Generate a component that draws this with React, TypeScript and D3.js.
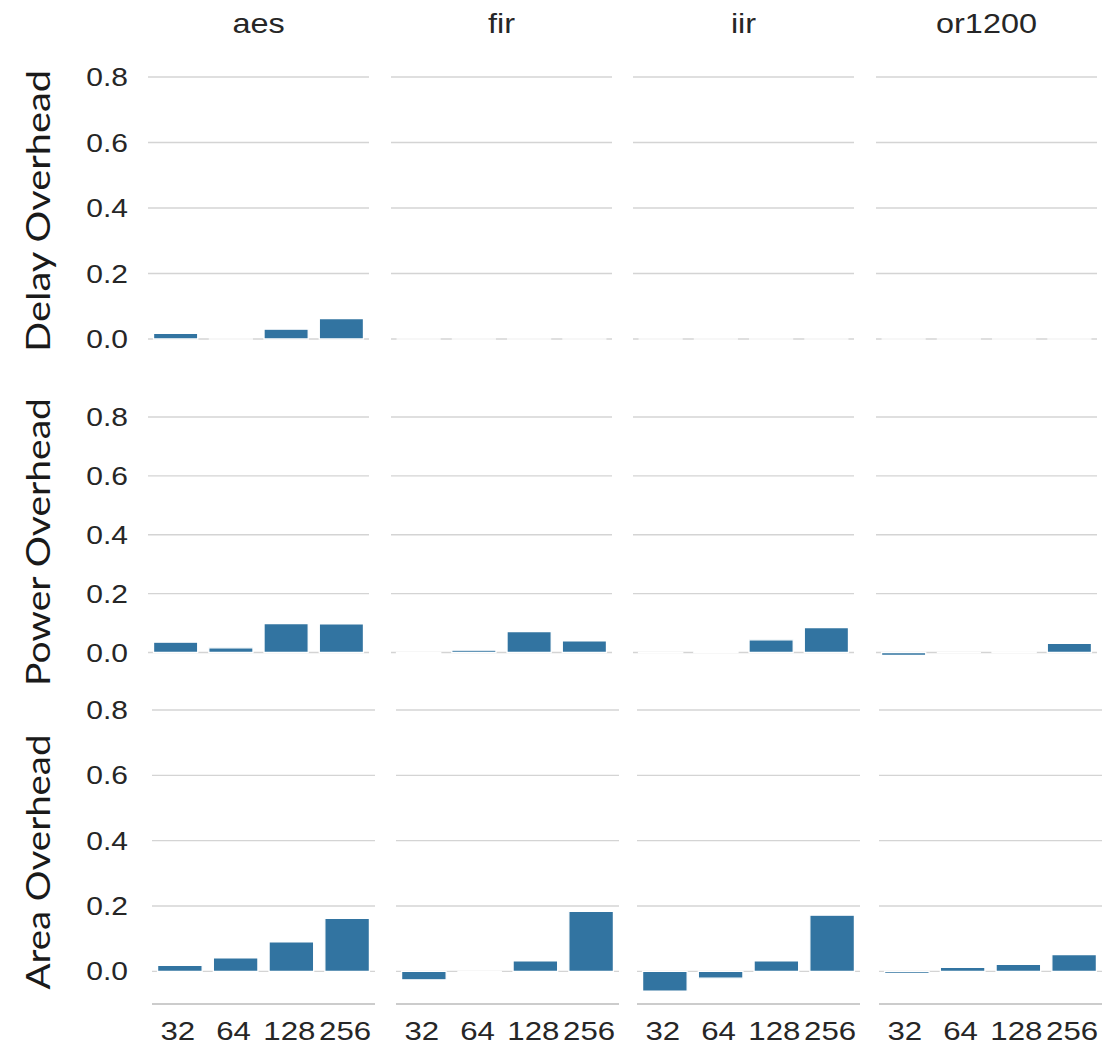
import React, { useRef, useEffect } from 'react';
import * as d3 from 'd3';

const designs = ['aes', 'fir', 'iir', 'or1200'];
const sizes = ['32', '64', '128', '256'];
const metrics = ['Delay Overhead', 'Power Overhead', 'Area Overhead'];
const yTicks = [0, 0.2, 0.4, 0.6, 0.8];

// values per design, in the order of sizes
const delayValues = [
  [0.017, 0.0, 0.03, 0.062],
  [0.0, 0.0, 0.0, 0.0],
  [0.0, 0.0, 0.0, 0.0],
  [0.0, 0.0, 0.0, 0.0],
];
const powerValues = [
  [0.035, 0.016, 0.098, 0.097],
  [-0.005, 0.008, 0.071, 0.04],
  [-0.001, 0.004, 0.043, 0.085],
  [-0.01, 0.0, 0.002, 0.031],
];
const areaValues = [
  [0.018, 0.041, 0.09, 0.162],
  [-0.026, 0.0, 0.032, 0.184],
  [-0.061, -0.021, 0.032, 0.172],
  [-0.006, 0.012, 0.021, 0.051],
];

const W = 1112;
const H = 1049;
const barColor = '#3274a1';
const gridColor = '#d4d4d4';
const textColor = '#262626';
const tickFont = '"Liberation Sans", Arial, sans-serif';
const stretch = 1.2;

const App: React.FC = () => {
  const svgRef = useRef<SVGSVGElement>(null);

  useEffect(() => {
    if (!svgRef.current) return;
    const svg = d3.select(svgRef.current);
    svg.selectAll('*').remove();

    const rows = [
      { values: delayValues, y: d3.scaleLinear().domain([0, 0.8]).range([339, 77]), xs: [148, 391, 633, 876], w: 221, spine: false, mid: 211, len: 282 },
      { values: powerValues, y: d3.scaleLinear().domain([0, 0.8]).range([652.5, 417]), xs: [148, 391, 633, 876], w: 221, spine: false, mid: 542, len: 288 },
      { values: areaValues, y: d3.scaleLinear().domain([-0.1, 0.8]).range([1004, 710]), xs: [152, 396, 637, 879], w: 223, spine: true, mid: 862, len: 255 },
    ];

    const label = (x: number, y: number, txt: string, size: number, anchor: string) =>
      svg.append('text')
        .attr('transform', `translate(${x},${y}) scale(${stretch},1)`)
        .attr('text-anchor', anchor)
        .style('font-family', tickFont)
        .style('font-size', `${size}px`)
        .style('fill', textColor)
        .text(txt);

    // column titles
    designs.forEach((d, i) => {
      label(rows[0].xs[i] + rows[0].w / 2, 33, d, 27, 'middle');
    });

    rows.forEach((row, r) => {
      const y = row.y;

      // y tick labels, left column only
      yTicks.forEach(t => {
        label(128, y(t) + 9, d3.format('.1f')(t), 25, 'end');
      });

      // metric title
      svg.append('text')
        .attr('transform', `translate(50,${row.mid}) rotate(-90)`)
        .attr('text-anchor', 'middle')
        .attr('textLength', row.len)
        .attr('lengthAdjust', 'spacingAndGlyphs')
        .style('font-family', 'Lato, "Open Sans", sans-serif')
        .style('font-size', '32px')
        .style('fill', '#1a1a1a')
        .text(metrics[r]);

      row.xs.forEach((x0, c) => {
        const x = d3.scaleBand<string>()
          .domain(sizes)
          .range([x0, x0 + row.w])
          .paddingInner(0.2)
          .paddingOuter(0.1);

        const g = svg.append('g');

        g.selectAll('.grid')
          .data(yTicks)
          .enter()
          .append('line')
          .attr('x1', x0)
          .attr('x2', x0 + row.w)
          .attr('y1', d => y(d))
          .attr('y2', d => y(d))
          .attr('stroke', gridColor)
          .attr('stroke-width', 1.3);

        if (row.spine) {
          g.append('line')
            .attr('x1', x0)
            .attr('x2', x0 + row.w)
            .attr('y1', y(-0.1))
            .attr('y2', y(-0.1))
            .attr('stroke', '#cccccc')
            .attr('stroke-width', 2);
        }

        const vals = row.values[c];
        g.selectAll('.bar')
          .data(sizes)
          .enter()
          .append('path')
          .attr('d', (s, i) => {
            const bx = x(s) || 0;
            const bw = x.bandwidth();
            const ya = y(0);
            const yb = y(vals[i]);
            return `M${bx},${ya}H${bx + bw}V${yb}H${bx}Z`;
          })
          .attr('fill', barColor)
          .attr('stroke', 'white')
          .attr('stroke-width', 1.3);

        if (r === rows.length - 1) {
          sizes.forEach(s => {
            label((x(s) || 0) + x.bandwidth() / 2 - 2, 1040, s, 26, 'middle');
          });
        }
      });
    });
  }, []);

  return (
    <svg
      ref={svgRef}
      width={W}
      height={H}
      style={{ position: 'absolute', left: 0, top: 0, background: 'white' }}
      viewBox={`0 0 ${W} ${H}`}
    />
  );
};

export default App;
